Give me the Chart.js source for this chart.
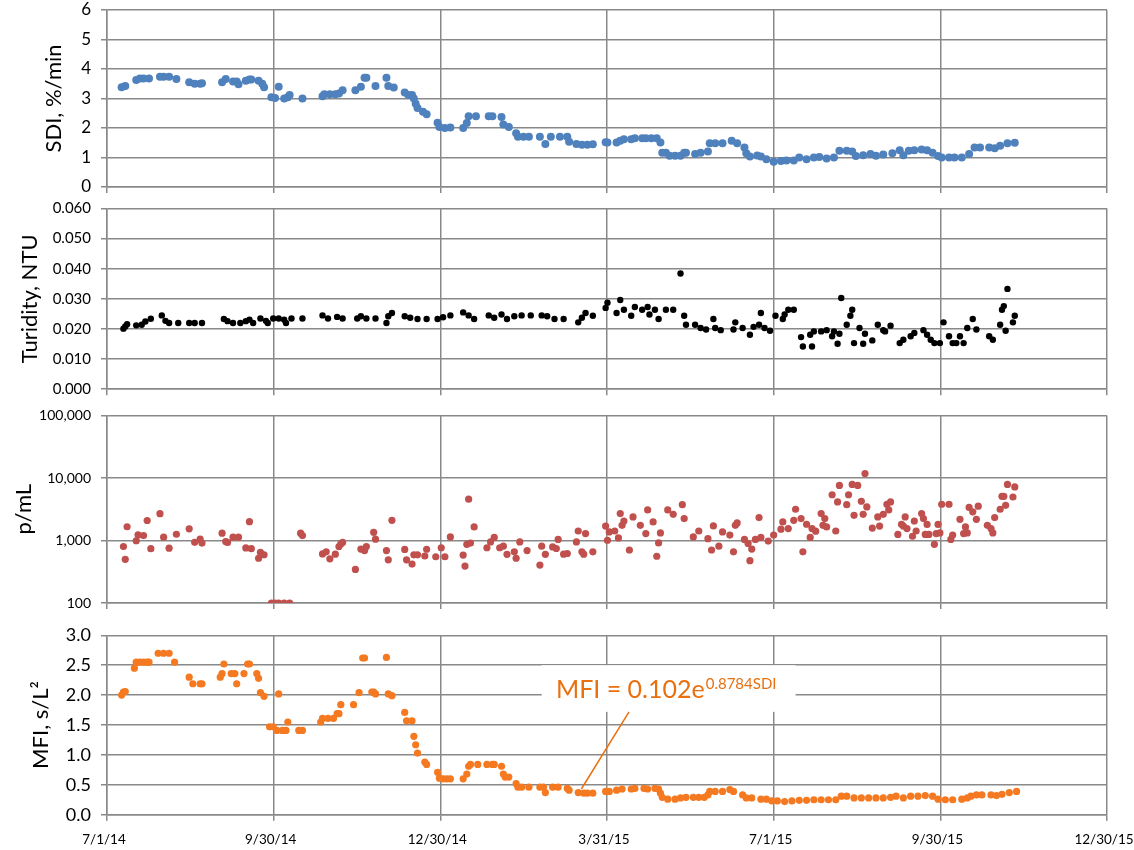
<!DOCTYPE html>
<html>
<head>
<meta charset="utf-8">
<script src="https://cdn.jsdelivr.net/npm/chart.js@4.4.1/dist/chart.umd.min.js"></script>
<style>
  html, body { margin: 0; padding: 0; background: #ffffff; }
  #wrap { position: relative; width: 1134px; height: 850px; overflow: hidden; background: #fff; }
  .panel { position: absolute; left: 0; width: 1134px; }
  canvas { display: block; }
</style>
</head>
<body>
<div id="wrap">
  <div class="panel" style="top:0px;height:200px"><canvas id="cSDI" width="1134" height="200"></canvas></div>
  <div class="panel" style="top:198px;height:205px"><canvas id="cTurb" width="1134" height="205"></canvas></div>
  <div class="panel" style="top:405px;height:210px"><canvas id="cPart" width="1134" height="210"></canvas></div>
  <div class="panel" style="top:612px;height:238px"><canvas id="cMFI" width="1134" height="238"></canvas></div>
</div>
<script>
// ---------- shared x axis (days since 7/1/14) ----------
const xTickDays   = [0, 91.25, 182.5, 273.75, 365, 456.25, 547.5];
const xTickLabels = ['7/1/14', '9/30/14', '12/30/14', '3/31/15', '7/1/15', '9/30/15', '12/30/15'];

// ---------- SDI, %/min ----------
const sdiTicks = [0, 1, 2, 3, 4, 5, 6];
const sdiTickLabels = ['0', '1', '2', '3', '4', '5', '6'];
const sdiDays = [8,10,16,18,20,23,29,31,34,38,
  45,48,51,52,63,65,69,71,72,76,
  78,79,83,85,86,90,92,94,97,99,
  100,107,118,119,122,125,127,129,136,139,
  141,142,147,153,154,157,163,165,167,168,
  169,170,173,175,181,182,185,188,195,197,
  198,202,209,211,216,217,220,224,225,228,
  231,237,240,243,248,252,253,257,260,263,
  266,273,274,279,281,283,287,289,293,295,
  298,301,303,304,306,308,311,314,316,317,
  322,325,329,330,333,337,342,345,349,350,
  352,356,358,361,365,369,372,376,379,383,
  387,390,394,398,401,405,408,410,414,418,
  421,425,430,434,436,439,442,446,449,452,
  455,457,461,464,468,472,475,478,483,486,
  489,493,497];
const sdiValues = [3.38,3.42,3.63,3.68,3.68,3.68,3.74,3.74,3.74,3.66,
  3.55,3.5,3.5,3.52,3.55,3.66,3.58,3.58,3.48,3.6,
  3.64,3.64,3.6,3.5,3.38,3.04,3.02,3.4,3.0,3.04,
  3.12,3.0,3.08,3.14,3.14,3.14,3.17,3.28,3.28,3.4,
  3.7,3.7,3.42,3.7,3.42,3.37,3.2,3.12,3.12,3.0,
  2.82,2.68,2.55,2.47,2.18,2.03,2.0,2.02,2.0,2.17,
  2.4,2.4,2.4,2.4,2.37,2.12,2.03,1.82,1.7,1.7,
  1.7,1.7,1.46,1.7,1.7,1.7,1.53,1.46,1.43,1.43,
  1.45,1.52,1.51,1.51,1.57,1.62,1.62,1.65,1.65,1.65,
  1.65,1.65,1.51,1.16,1.16,1.06,1.06,1.06,1.16,1.16,
  1.12,1.16,1.2,1.48,1.48,1.48,1.57,1.48,1.34,1.14,
  1.03,1.07,1.03,0.94,0.86,0.88,0.9,0.9,1.0,0.94,
  1.0,1.02,0.97,1.0,1.23,1.23,1.2,1.05,1.08,1.12,
  1.06,1.1,1.14,1.25,1.08,1.23,1.25,1.27,1.25,1.16,
  1.05,1.0,1.0,1.0,1.0,1.12,1.34,1.34,1.34,1.31,
  1.4,1.48,1.5];

// ---------- Turbidity, NTU ----------
const turbTicks = [0, 0.01, 0.02, 0.03, 0.04, 0.05, 0.06];
const turbTickLabels = ['0.000', '0.010', '0.020', '0.030', '0.040', '0.050', '0.060'];
const turbDays = [9,10,11,16,19,21,24,30,32,34,
  39,45,48,52,64,66,69,73,76,78,
  80,84,87,88,91,94,97,98,101,107,
  118,121,126,129,137,139,142,147,153,154,
  156,163,166,170,175,181,184,188,195,198,
  201,209,212,216,219,223,227,232,238,241,
  245,250,258,260,262,266,273,274,279,281,
  283,287,289,293,296,297,300,302,306,310,
  314,316,317,322,325,328,332,333,336,343,
  344,348,352,354,357,358,360,363,366,370,
  371,373,376,380,381,385,386,387,391,394,
  397,398,400,401,402,405,407,408,409,412,
  414,415,419,422,425,426,429,434,436,440,
  442,447,449,451,453,456,458,461,463,465,
  467,469,471,474,476,483,485,489,490,491,
  492,493,496,497];
const turbValues = [0.0201,0.0208,0.0216,0.0212,0.0214,0.0225,0.0234,0.0245,0.0227,0.022,
  0.022,0.022,0.022,0.022,0.0233,0.0226,0.022,0.022,0.0226,0.0231,
  0.022,0.0235,0.0227,0.022,0.0235,0.0235,0.0231,0.022,0.0235,0.0235,
  0.0245,0.0235,0.024,0.0235,0.0235,0.0242,0.0235,0.0235,0.022,0.0242,
  0.0253,0.0242,0.0237,0.0233,0.0233,0.0233,0.0239,0.0245,0.0255,0.0245,
  0.0233,0.0245,0.0237,0.0248,0.0233,0.0242,0.0245,0.0245,0.0245,0.0242,
  0.0233,0.0233,0.0222,0.0237,0.0253,0.0244,0.027,0.0287,0.0253,0.0296,
  0.0264,0.0244,0.0273,0.0264,0.0273,0.0248,0.0264,0.0233,0.0264,0.0264,
  0.0384,0.0244,0.0214,0.0214,0.0203,0.0198,0.0233,0.0203,0.0196,0.0198,
  0.0222,0.0203,0.0181,0.0207,0.0214,0.0253,0.0203,0.0194,0.0244,0.0233,
  0.0248,0.0264,0.0264,0.0173,0.0142,0.0181,0.0142,0.0192,0.0192,0.0196,
  0.0176,0.0192,0.0151,0.0184,0.0303,0.0214,0.0244,0.0264,0.0153,0.0203,
  0.0151,0.0184,0.0162,0.0214,0.0196,0.0192,0.0211,0.0153,0.0164,0.0176,
  0.0187,0.0196,0.0181,0.0164,0.0153,0.0153,0.0222,0.0176,0.0153,0.0153,
  0.0176,0.0153,0.0203,0.0233,0.0198,0.0176,0.0164,0.0214,0.0264,0.0276,
  0.0194,0.0333,0.0222,0.0244];

// ---------- particles, p/mL (log axis) ----------
const partTicks = [100, 1000, 10000, 100000];
const partTickLabels = ['100', '1,000', '10,000', '100,000'];
const partDays = [9,10,11,16,17,20,22,24,29,31,
  34,38,45,48,51,52,63,65,66,69,
  72,76,78,79,83,84,86,90,92,94,
  97,100,106,107,118,120,122,125,127,128,
  129,136,139,141,142,146,147,153,154,156,
  163,164,167,168,170,174,175,180,183,185,
  188,195,196,197,198,199,201,208,210,212,
  215,217,219,223,224,226,230,237,238,240,
  244,246,247,250,252,257,258,260,261,262,
  266,273,274,275,278,280,281,282,283,286,
  288,292,295,296,299,301,302,303,307,310,
  315,316,321,324,329,331,332,335,337,341,
  343,344,345,349,351,352,353,355,357,358,
  362,365,369,370,373,376,377,380,381,383,
  385,386,388,391,392,393,394,397,399,400,
  401,405,406,408,409,411,413,414,415,416,
  419,422,423,425,427,428,429,433,435,436,
  437,438,441,442,443,446,447,448,449,450,
  453,454,455,456,457,461,462,463,467,469,
  470,471,472,474,476,477,482,484,485,486,
  489,490,491,492,493,496,497];
const partValues = [802,500,1660,990,1230,1200,2090,740,2690,1130,
  755,1260,1540,935,1050,910,1310,960,930,1130,
  1130,760,2000,740,520,645,590,100,100,100,
  100,100,1310,1200,610,660,510,605,800,880,
  930,345,730,690,800,1350,1050,690,490,2100,
  720,490,420,590,590,565,725,550,765,550,
  1140,585,390,870,4580,910,1650,765,950,1120,
  765,810,600,660,520,950,690,405,810,600,
  790,745,1040,605,620,950,1420,660,605,1290,
  660,1700,1010,1370,1420,1100,2700,1750,2050,705,
  2380,1750,1290,3080,1980,560,915,1320,3080,2620,
  3740,2240,1140,1420,1070,705,1710,810,1370,1220,
  660,1750,1910,1040,895,475,730,1040,2330,1120,
  980,1220,1520,1980,1550,2100,3160,2240,660,1820,
  1120,1550,1410,2700,1750,2240,1650,5400,1420,4140,
  7600,3740,5400,7900,2530,7600,4250,2620,11800,3450,
  1580,2380,1700,2620,3800,3080,4140,1250,1820,1700,
  2380,1550,1170,2050,1420,2700,2240,1250,1810,1250,
  870,1290,1810,1320,3800,3800,1040,1220,2180,1290,
  1650,1320,3380,2880,2180,3540,1750,1550,1320,2330,
  3160,5100,5100,3660,7900,4970,7200];

// ---------- MFI, s/L² ----------
const mfiTicks = [0, 0.5, 1, 1.5, 2, 2.5, 3];
const mfiTickLabels = ['0.0', '0.5', '1.0', '1.5', '2.0', '2.5', '3.0'];
const mfiDays = [8,9,10,15,16,18,20,22,23,28,
  31,34,37,45,47,51,52,62,63,64,
  68,70,71,75,77,78,82,83,84,86,
  89,91,93,94,96,98,99,105,107,117,
  118,121,124,126,127,128,135,138,140,141,
  145,146,147,153,154,156,163,164,167,168,
  169,170,174,175,181,182,184,186,188,195,
  197,198,199,203,208,211,212,216,217,218,
  220,224,225,227,231,237,239,240,244,247,
  252,253,258,261,263,266,273,275,279,282,
  287,289,294,296,300,302,303,304,307,311,
  314,317,321,324,327,329,330,333,337,341,
  343,348,350,353,358,361,364,367,371,375,
  379,383,387,391,395,399,402,405,409,413,
  417,421,425,429,432,436,440,444,448,452,
  455,459,463,468,471,473,476,479,484,487,
  490,494,498];
const mfiValues = [2.0,2.05,2.06,2.45,2.55,2.55,2.55,2.55,2.55,2.7,
  2.7,2.7,2.55,2.3,2.19,2.19,2.19,2.3,2.36,2.52,
  2.36,2.36,2.19,2.36,2.52,2.52,2.36,2.28,2.04,1.98,
  1.47,1.47,1.41,2.02,1.41,1.41,1.55,1.41,1.41,1.55,
  1.61,1.61,1.61,1.69,1.69,1.84,1.84,2.04,2.62,2.62,
  2.05,2.05,2.02,2.63,2.02,1.99,1.71,1.57,1.57,1.31,
  1.17,1.03,0.88,0.84,0.71,0.61,0.6,0.6,0.6,0.6,
  0.68,0.81,0.84,0.84,0.84,0.84,0.84,0.81,0.68,0.63,
  0.63,0.52,0.46,0.46,0.46,0.46,0.46,0.37,0.46,0.46,
  0.44,0.41,0.37,0.36,0.36,0.36,0.39,0.39,0.41,0.43,
  0.43,0.44,0.44,0.43,0.44,0.43,0.36,0.29,0.26,0.26,
  0.28,0.29,0.29,0.29,0.29,0.33,0.39,0.39,0.39,0.42,
  0.39,0.33,0.28,0.28,0.26,0.26,0.23,0.23,0.22,0.23,
  0.24,0.24,0.25,0.25,0.25,0.25,0.31,0.31,0.28,0.28,
  0.28,0.28,0.28,0.29,0.31,0.28,0.31,0.31,0.32,0.31,
  0.26,0.25,0.25,0.26,0.28,0.31,0.33,0.33,0.33,0.32,
  0.34,0.37,0.39];

// ---------- fit equation label ----------
const noteMain = 'MFI = 0.102e';
const noteExp  = '0.8784SDI';

// ---------- styling / drawing ----------
const FONT = 'Lato, "Liberation Sans", Arial, sans-serif';
const GRID = '#898989';
const NOTE = '#E8700F';
Chart.defaults.font.family = FONT;

function toPoints(days, vals) {
  const n = Math.min(days.length, vals.length);
  const out = [];
  for (let i = 0; i < n; i++) out.push({ x: days[i], y: vals[i] });
  return out;
}

function panel(id, o) {
  return new Chart(document.getElementById(id), {
    type: 'scatter',
    data: { datasets: [{
      data: toPoints(o.days, o.vals),
      backgroundColor: o.color, borderColor: o.color, borderWidth: 0,
      pointRadius: o.r, pointHoverRadius: o.r
    }] },
    options: {
      responsive: false, maintainAspectRatio: false, animation: false,
      devicePixelRatio: 1, events: [],
      layout: { padding: { top: o.padTop, left: 0, right: 27, bottom: 0 } },
      plugins: { legend: { display: false }, tooltip: { enabled: false } },
      scales: {
        x: {
          type: 'linear',
          min: xTickDays[0], max: xTickDays[xTickDays.length - 1],
          afterBuildTicks: s => { s.ticks = xTickDays.map(v => ({ value: v })); },
          afterFit: s => { s.height = o.xH; s.paddingLeft = 0; s.paddingRight = 0; },
          grid: { color: GRID, lineWidth: 1.5, tickLength: 6 },
          border: { color: GRID, width: 1.5 },
          ticks: {
            display: o.showX, autoSkip: false, maxRotation: 0, minRotation: 0,
            padding: 11, labelOffset: -3, color: '#000', font: { family: FONT, size: 13.5 },
            callback: (v, i) => xTickLabels[i]
          }
        },
        y: {
          type: o.yType || 'linear',
          min: o.yTicks[0], max: o.yTicks[o.yTicks.length - 1],
          afterBuildTicks: s => { s.ticks = o.yTicks.map(v => ({ value: v })); },
          afterFit: s => { s.width = 107; s.paddingTop = 0; s.paddingBottom = 0; },
          grid: { color: GRID, lineWidth: 1.5, tickLength: 6 },
          border: { color: GRID, width: 1.5 },
          ticks: {
            padding: 10, color: '#000', font: { family: FONT, size: o.tickSize },
            callback: (v, i) => o.yLabels[i]
          },
          title: {
            display: true, text: o.title, color: '#000',
            font: { family: FONT, size: 22 },
            padding: { top: o.titleOff, bottom: 0 }
          }
        }
      }
    },
    plugins: o.plugins || []
  });
}

const notePlugin = {
  id: 'mfiNote',
  afterDatasetsDraw(chart) {
    const { ctx, scales: { x, y } } = chart;
    const L = x.getPixelForValue(238), R = x.getPixelForValue(377);
    const T = y.getPixelForValue(2.50), B = y.getPixelForValue(1.72);
    ctx.save();
    ctx.fillStyle = '#ffffff';
    ctx.fillRect(L, T, R - L, B - T);
    ctx.strokeStyle = NOTE;
    ctx.lineWidth = 1.5;
    ctx.beginPath();
    ctx.moveTo(x.getPixelForValue(285.8), B);
    ctx.lineTo(x.getPixelForValue(259.7), y.getPixelForValue(0.43));
    ctx.stroke();
    ctx.fillStyle = NOTE;
    ctx.textAlign = 'left';
    ctx.textBaseline = 'alphabetic';
    const tx = x.getPixelForValue(245.8), ty = y.getPixelForValue(1.95);
    ctx.font = '25px ' + FONT;
    ctx.fillText(noteMain, tx, ty);
    const w = ctx.measureText(noteMain).width;
    ctx.font = '15px ' + FONT;
    ctx.fillText(noteExp, tx + w + 1, ty - 9);
    ctx.restore();
  }
};

panel('cSDI', {
  days: sdiDays, vals: sdiValues, color: '#4F81BD', r: 4,
  yTicks: sdiTicks, yLabels: sdiTickLabels, tickSize: 17,
  title: 'SDI, %/min', titleOff: 40.8,
  padTop: 10, xH: 13, showX: false
});
panel('cTurb', {
  days: turbDays, vals: turbValues, color: '#000000', r: 3.2,
  yTicks: turbTicks, yLabels: turbTickLabels, tickSize: 15,
  title: 'Turidity, NTU', titleOff: 16.8,
  padTop: 10.5, xH: 13.8, showX: false
});
panel('cPart', {
  days: partDays, vals: partValues, color: '#C0504D', r: 3.6,
  yType: 'logarithmic',
  yTicks: partTicks, yLabels: partTickLabels, tickSize: 14,
  title: 'p/mL', titleOff: 10.8,
  padTop: 10.5, xH: 12, showX: false
});
panel('cMFI', {
  days: mfiDays, vals: mfiValues, color: '#F47920', r: 3.6,
  yTicks: mfiTicks, yLabels: mfiTickLabels, tickSize: 18,
  title: 'MFI, s/L²', titleOff: 27.8,
  padTop: 23.3, xH: 35.3, showX: true,
  plugins: [notePlugin]
});
</script>
</body>
</html>
